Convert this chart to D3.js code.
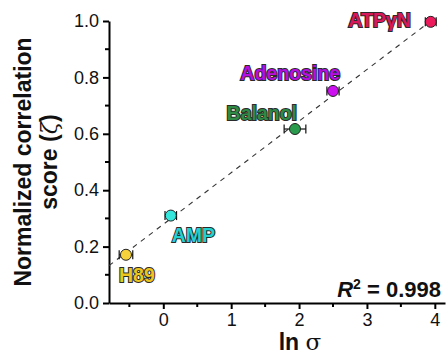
<!DOCTYPE html>
<html>
<head>
<meta charset="utf-8">
<script src="https://cdn.jsdelivr.net/npm/d3@7"></script>
<style>
  body { margin: 0; background: #fff; }
  svg { display: block; font-family: "Liberation Sans", Arial, sans-serif; }
</style>
</head>
<body>
<div id="chart"></div>
<script>
// data
const compounds = ["ATPγN", "Adenosine", "Balanol", "AMP", "H89"];
const lnSigma = [3.94, 2.5, 1.94, 0.11, -0.55];
const lnSigmaErr = [0.08, 0.09, 0.16, 0.085, 0.1];
const zeta = [0.997, 0.752, 0.617, 0.31, 0.171];
const fitSlope = 0.183;
const fitIntercept = 0.279;
const fitRange = [-0.8, 3.85];
const xTicks = [0, 1, 2, 3, 4];
const yTicks = [0, 0.2, 0.4, 0.6, 0.8, 1.0];
const rSquared = "0.998";

// styling
const pointColors = ["#ec1c5c", "#cc10f0", "#2a9a4c", "#34e6dc", "#f6d23c"];
const labelColors = ["#d8185a", "#b80ee0", "#2e8a44", "#22d2d0", "#ecc61e"];
// label placement relative to each point: [dx, dy, anchor]
const labelPos = [
  [-20, 5, "end"],
  [7, -11, "end"],
  [2, -9, "end"],
  [1, 26, "start"],
  [-7, 27, "start"]
];

const W = 448, H = 351;
const margin = { top: 21, right: 3, bottom: 48, left: 109 };
const width = W - margin.left - margin.right;
const height = H - margin.top - margin.bottom;

const svg = d3.select("#chart").append("svg")
  .attr("width", W).attr("height", H);
const g = svg.append("g")
  .attr("transform", "translate(" + margin.left + "," + margin.top + ")");

const x = d3.scaleLinear().domain([-0.8, 4.15]).range([0, width]);
const y = d3.scaleLinear().domain([0, 1]).range([height, 0]);

// minor ticks
const xMinor = d3.range(-0.5, 4.1, 1);
const yMinor = d3.range(0.1, 1, 0.2);

const xAxis = g.append("g").attr("transform", "translate(0," + height + ")")
  .call(d3.axisBottom(x).tickValues(xTicks).tickFormat(d3.format("d")).tickSize(6).tickSizeOuter(0));
g.append("g").attr("transform", "translate(0," + height + ")")
  .selectAll("line").data(xMinor).enter().append("line")
  .attr("x1", d => x(d)).attr("x2", d => x(d))
  .attr("y1", 0).attr("y2", 4)
  .attr("stroke", "#000").attr("stroke-width", 2);

const yAxis = g.append("g")
  .call(d3.axisLeft(y).tickValues(yTicks).tickFormat(d3.format(".1f")).tickSize(6).tickSizeOuter(0));
g.append("g").selectAll("line").data(yMinor).enter().append("line")
  .attr("x1", 0).attr("x2", -4)
  .attr("y1", d => y(d)).attr("y2", d => y(d))
  .attr("stroke", "#000").attr("stroke-width", 2);

[xAxis, yAxis].forEach(a => {
  a.select(".domain").attr("stroke", "#000").attr("stroke-width", 2);
  a.selectAll(".tick line").attr("stroke", "#000").attr("stroke-width", 2);
  a.selectAll(".tick text").attr("font-size", 18).attr("fill", "#111")
    .attr("font-family", "Liberation Sans, Arial, sans-serif");
});
xAxis.selectAll(".tick text").attr("dy", "0.8em");
yAxis.selectAll(".tick text").attr("x", -10);

// regression line
g.append("line")
  .attr("x1", x(fitRange[0])).attr("y1", y(fitIntercept + fitSlope * fitRange[0]))
  .attr("x2", x(fitRange[1])).attr("y2", y(fitIntercept + fitSlope * fitRange[1]))
  .attr("stroke", "#333").attr("stroke-width", 1.1)
  .attr("stroke-dasharray", "5,5");

const pts = g.selectAll(".pt").data(compounds).enter().append("g").attr("class", "pt");

// error bars
pts.append("line")
  .attr("x1", (d, i) => x(lnSigma[i] - lnSigmaErr[i]))
  .attr("x2", (d, i) => x(lnSigma[i] + lnSigmaErr[i]))
  .attr("y1", (d, i) => y(zeta[i])).attr("y2", (d, i) => y(zeta[i]))
  .attr("stroke", "#111").attr("stroke-width", 1.2);
[-1, 1].forEach(s => {
  pts.append("line")
    .attr("x1", (d, i) => x(lnSigma[i] + s * lnSigmaErr[i]))
    .attr("x2", (d, i) => x(lnSigma[i] + s * lnSigmaErr[i]))
    .attr("y1", (d, i) => y(zeta[i]) - 4.5).attr("y2", (d, i) => y(zeta[i]) + 4.5)
    .attr("stroke", "#111").attr("stroke-width", 1.2);
});

pts.append("circle")
  .attr("cx", (d, i) => x(lnSigma[i]))
  .attr("cy", (d, i) => y(zeta[i]))
  .attr("r", 5.5)
  .attr("fill", (d, i) => pointColors[i])
  .attr("stroke", "#222").attr("stroke-width", 1);

pts.append("text")
  .attr("x", (d, i) => x(lnSigma[i]) + labelPos[i][0])
  .attr("y", (d, i) => y(zeta[i]) + labelPos[i][1])
  .attr("text-anchor", (d, i) => labelPos[i][2])
  .attr("font-size", 19.5).attr("font-weight", "bold")
  .attr("fill", (d, i) => labelColors[i])
  .attr("stroke", "#2a2a2a").attr("stroke-width", 2)
  .attr("paint-order", "stroke")
  .text(d => d);

// R squared
const r2 = g.append("text")
  .attr("x", width - 4).attr("y", height - 6)
  .attr("text-anchor", "end")
  .attr("font-size", 22).attr("font-weight", "bold").attr("fill", "#111");
r2.append("tspan").attr("font-style", "italic").text("R");
r2.append("tspan").attr("font-size", 14).attr("dy", -8).text("2");
r2.append("tspan").attr("dy", 8).text(" = " + rSquared);

// axis titles
const yl = svg.append("text")
  .attr("transform", "translate(0," + (margin.top + height / 2) + ") rotate(-90)")
  .attr("text-anchor", "middle")
  .attr("font-size", 23).attr("font-weight", "bold").attr("fill", "#111");
yl.append("tspan").attr("x", 0).attr("y", 31).text("Normalized correlation");
const yl2 = yl.append("tspan").attr("x", 0).attr("y", 57).text("score (");
yl2.append("tspan").attr("font-weight", "normal").attr("font-family", "DejaVu Serif, serif").attr("font-style", "italic").text("ζ");
yl.append("tspan").text(")");

const xl = svg.append("text")
  .attr("x", 300).attr("y", 350)
  .attr("text-anchor", "middle")
  .attr("font-size", 23).attr("font-weight", "bold").attr("fill", "#111");
xl.append("tspan").text("ln ");
xl.append("tspan").attr("font-weight", "normal").attr("font-family", "DejaVu Serif, serif").text("σ");
</script>
</body>
</html>
